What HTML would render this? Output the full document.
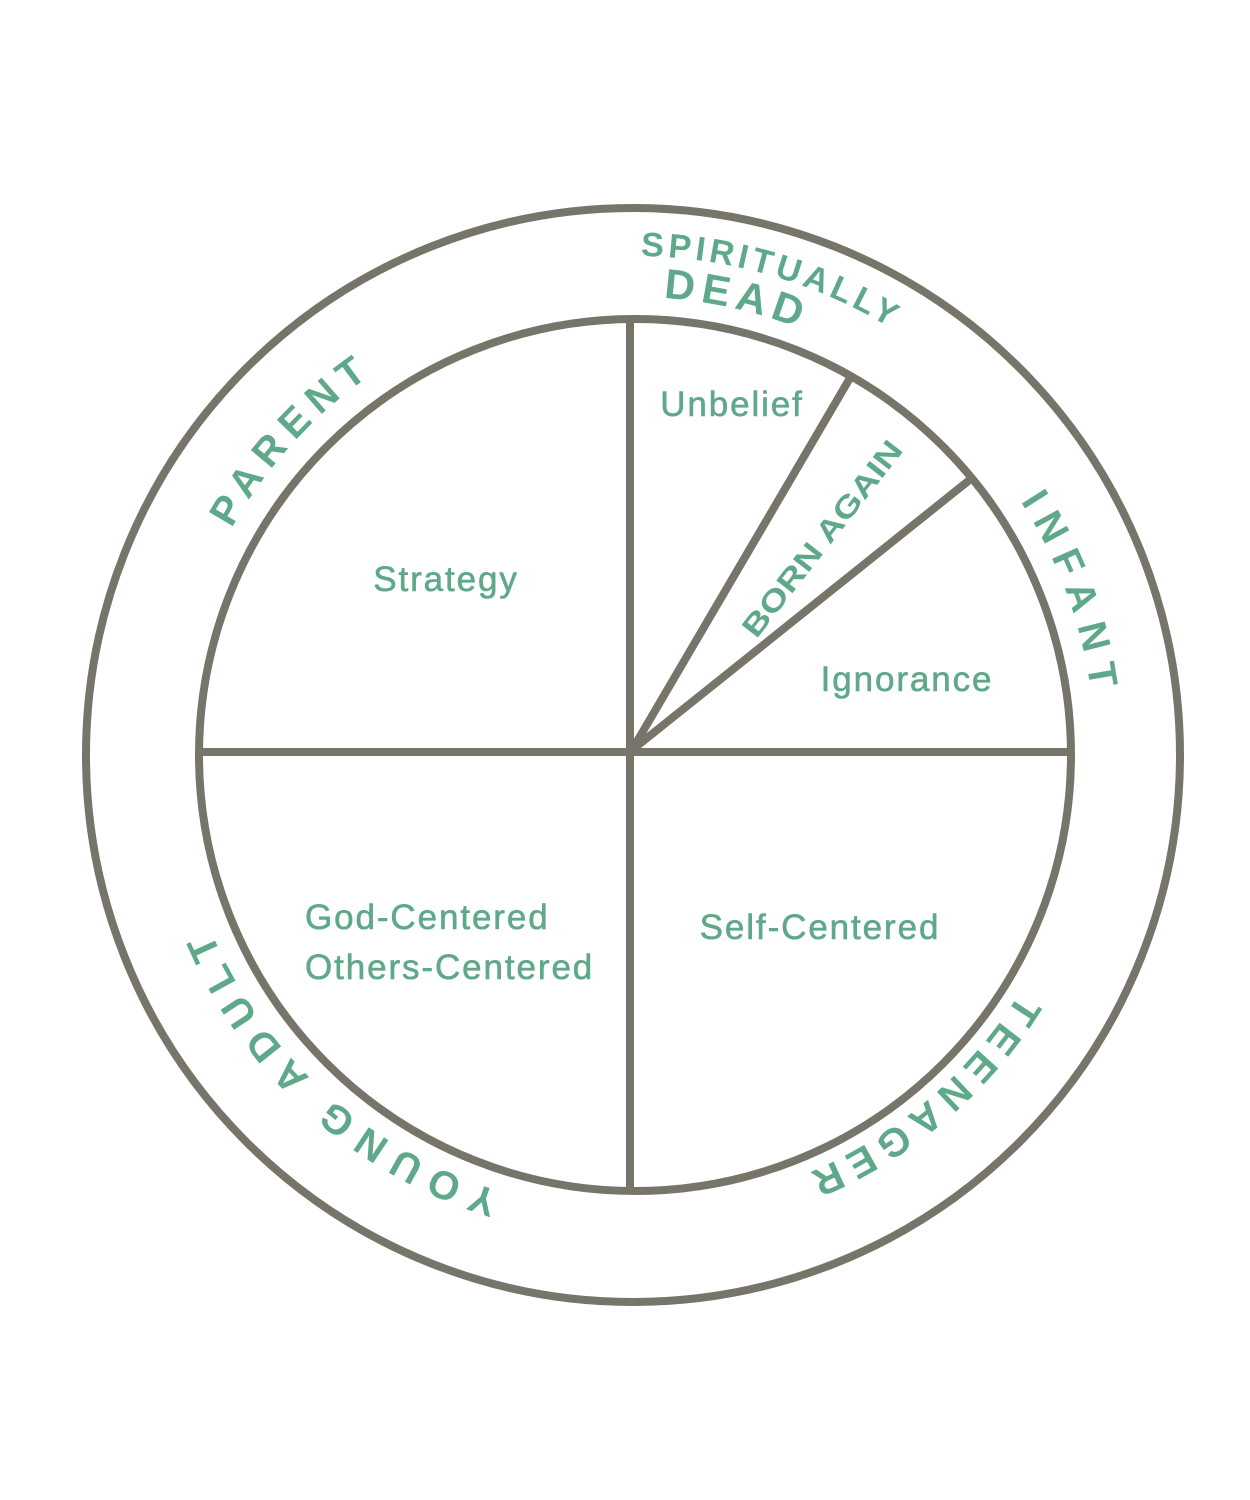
<!DOCTYPE html>
<html><head><meta charset="utf-8"><style>
html,body{margin:0;padding:0;background:#fff;}
svg{display:block}
.in{font-family:"Liberation Sans",sans-serif;font-size:35px;letter-spacing:1.9px;fill:#5fa98a;stroke:#5fa98a;stroke-width:0.6;}
.arc{font-family:"Liberation Sans",sans-serif;font-weight:bold;fill:#5fa98a;}
</style></head><body>
<svg width="1250" height="1500" viewBox="0 0 1250 1500" xmlns="http://www.w3.org/2000/svg">
<defs>
<path id="r497" d="M633,256 A497,497 0 1 1 633,1250 A497,497 0 1 1 633,256"/>
<path id="r456" d="M633,297 A456,456 0 1 1 633,1209 A456,456 0 1 1 633,297"/>
<path id="r460" d="M633,293 A460,460 0 1 1 633,1213 A460,460 0 1 1 633,293"/>
<path id="r462" d="M633,291 A462,462 0 1 1 633,1215 A462,462 0 1 1 633,291"/>
<path id="r455" d="M633,298 A455,455 0 1 1 633,1208 A455,455 0 1 1 633,298"/>
<path id="r458" d="M633,295 A458,458 0 1 1 633,1211 A458,458 0 1 1 633,295"/>
</defs>
<g fill="none" stroke="#77746a" stroke-width="8">
<circle cx="633" cy="755" r="547"/>
<circle cx="635" cy="755" r="436"/>
<line x1="630" y1="320" x2="630" y2="1190"/>
<line x1="197" y1="752" x2="1073" y2="752"/>
<line x1="632" y1="750" x2="850" y2="378"/>
<line x1="632" y1="750" x2="972" y2="478"/>
</g>
<text class="arc" font-size="34"><textPath href="#r497" startOffset="138.8" text-anchor="middle" textLength="262" lengthAdjust="spacing">SPIRITUALLY</textPath></text>
<text class="arc" font-size="42"><textPath href="#r456" startOffset="99.5" text-anchor="middle" textLength="138" lengthAdjust="spacing">DEAD</textPath></text>
<text class="arc" font-size="40"><textPath href="#r460" startOffset="2504.9" text-anchor="middle" textLength="206" lengthAdjust="spacing">PARENT</textPath></text>
<text class="arc" font-size="40"><textPath href="#r462" startOffset="560.4" text-anchor="middle" textLength="202" lengthAdjust="spacing">INFANT</textPath></text>
<text class="arc" font-size="40"><textPath href="#r455" startOffset="1107.8" text-anchor="middle" textLength="280" lengthAdjust="spacing">TEENAGER</textPath></text>
<text class="arc" font-size="40"><textPath href="#r458" startOffset="1774" text-anchor="middle" textLength="400" lengthAdjust="spacing">YOUNG ADULT</textPath></text>
<text class="in" x="732" y="416" text-anchor="middle">Unbelief</text>
<text class="in" x="446" y="591" text-anchor="middle">Strategy</text>
<text class="in" x="907" y="691" text-anchor="middle">Ignorance</text>
<text class="in" x="820" y="939" text-anchor="middle">Self-Centered</text>
<text class="in" x="305" y="929">God-Centered</text>
<text class="in" x="305" y="979">Others-Centered</text>
<text class="arc" font-size="30" transform="translate(824,540) rotate(-52)" text-anchor="middle" dominant-baseline="middle" textLength="240" lengthAdjust="spacingAndGlyphs">BORN AGAIN</text>
</svg>
</body></html>
